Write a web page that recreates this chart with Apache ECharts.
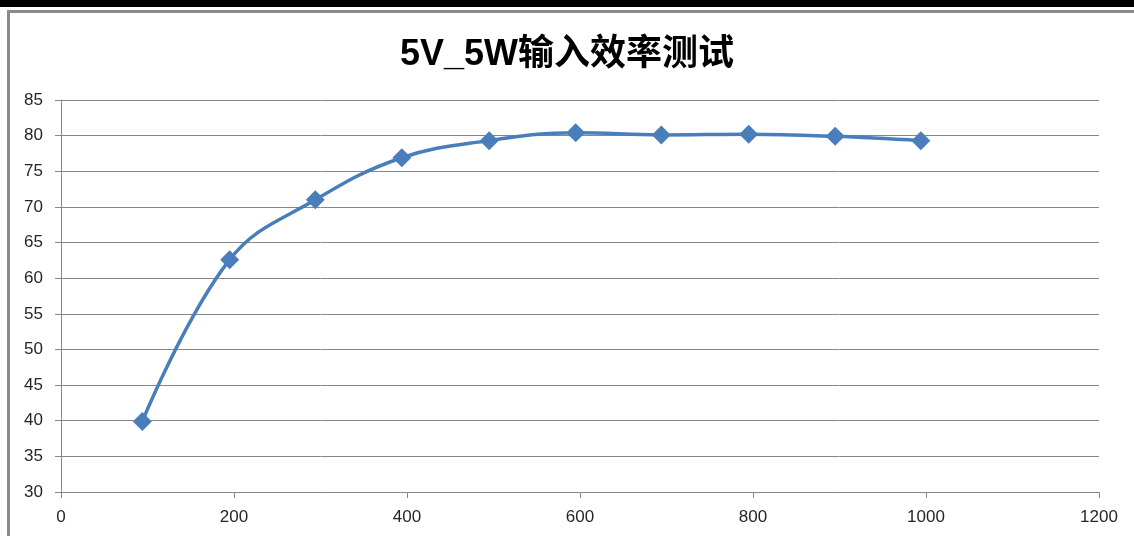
<!DOCTYPE html>
<html>
<head>
<meta charset="utf-8">
<script src="https://cdn.jsdelivr.net/npm/echarts@6/dist/echarts.min.js"></script>
<style>
  html, body { margin: 0; padding: 0; background: #fff; }
  #topbar { position: absolute; left: 0; top: 0; width: 1134px; height: 7px; background: #000; }
  #frame { position: absolute; left: 7px; top: 10px; width: 1127px; height: 526px;
           border-left: 3px solid #8a8a8a; border-top: 3px solid #8a8a8a; box-sizing: border-box; }
  #chart { position: absolute; left: 0; top: 0; width: 1134px; height: 536px; }
</style>
</head>
<body>
<div id="topbar"></div>
<div id="frame"></div>
<div id="chart"></div>
<script>
const titleText = '5V_5W输入效率测试';
const loadCurrent = [94, 195, 294, 394, 495, 595, 694, 795, 895, 994];
const efficiency = [39.9, 62.6, 71.0, 76.9, 79.3, 80.4, 80.1, 80.2, 79.9, 79.3];

const chart = echarts.init(document.getElementById('chart'), null, { renderer: 'canvas' });

const axisGray = '#868686';
const labelStyle = {
    color: '#262626',
    fontSize: 17,
    fontFamily: 'Liberation Sans, Arial, sans-serif',
    formatter: (v) => String(v)
};

chart.setOption({
    animation: false,
    backgroundColor: 'transparent',
    title: {
        text: titleText,
        left: 'center',
        top: 32,
        textStyle: {
            fontSize: 36,
            fontWeight: 'bold',
            color: '#000',
            fontFamily: 'Liberation Sans, "Noto Sans CJK SC", sans-serif'
        }
    },
    grid: { left: 61, right: 35, top: 100, bottom: 44 },
    xAxis: {
        type: 'value',
        min: 0,
        max: 1200,
        interval: 200,
        axisLine: { show: true, lineStyle: { color: axisGray, width: 1 } },
        axisTick: { show: true, inside: false, length: 6, lineStyle: { color: axisGray } },
        splitLine: { show: false },
        axisLabel: Object.assign({ margin: 17 }, labelStyle)
    },
    yAxis: {
        type: 'value',
        min: 30,
        max: 85,
        interval: 5,
        axisLine: { show: true, lineStyle: { color: axisGray, width: 1 } },
        axisTick: { show: true, inside: false, length: 6, lineStyle: { color: axisGray } },
        splitLine: { show: true, lineStyle: { color: axisGray, width: 1 } },
        axisLabel: Object.assign({ margin: 18 }, labelStyle)
    },
    series: [{
        type: 'line',
        data: loadCurrent.map((x, i) => [x, efficiency[i]]),
        smooth: 0.4,
        symbol: 'diamond',
        symbolSize: 19,
        showAllSymbol: true,
        lineStyle: { color: '#4a7ebb', width: 3.5 },
        itemStyle: { color: '#4a7ebb' }
    }]
});
</script>
</body>
</html>
